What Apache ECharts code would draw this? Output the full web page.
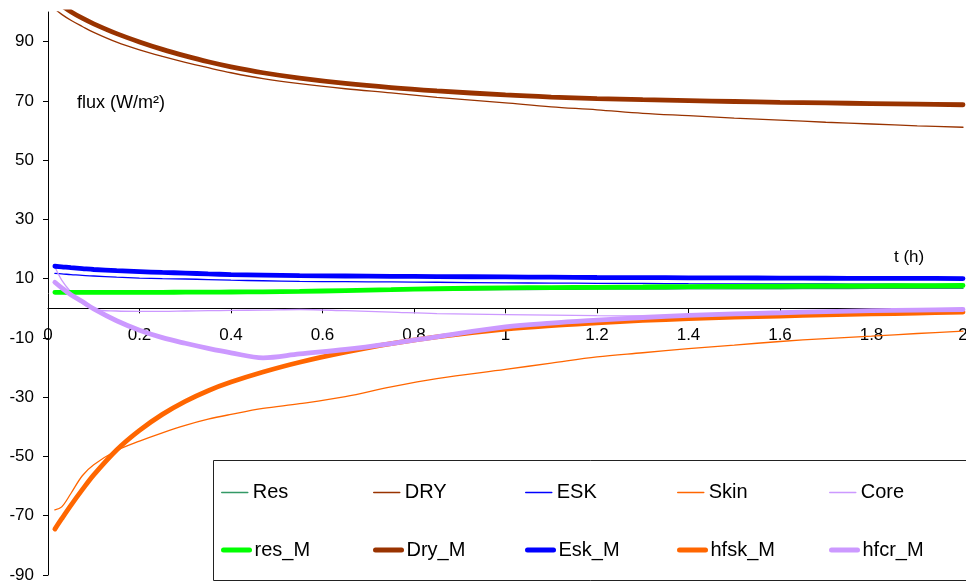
<!DOCTYPE html>
<html>
<head>
<meta charset="utf-8">
<script src="https://cdn.jsdelivr.net/npm/echarts@6/dist/echarts.min.js"></script>
<style>
html,body{margin:0;padding:0;background:#fff;}
#c{width:966px;height:582px;}
</style>
</head>
<body>
<div id="c"></div>
<script>
const times = [0.015,0.03,0.05,0.075,0.1,0.15,0.2,0.25,0.3,0.35,0.4,0.47,0.55,0.65,0.75,0.85,1.0,1.1,1.2,1.3,1.4,1.5,1.6,1.7,1.8,1.9,2.0];

const resThin  = [5.3,5.3,5.3,5.3,5.3,5.3,5.3,5.35,5.35,5.4,5.4,5.5,5.6,5.8,6.0,6.1,6.3,6.4,6.45,6.5,6.55,6.6,6.6,6.65,6.7,6.7,6.7];
const dryThin  = [101.0,99.2,97.2,95.1,93.1,89.8,87.2,85.0,83.0,81.2,79.5,77.5,75.8,74.1,72.7,71.2,69.3,68.0,67.0,65.8,65.0,64.2,63.5,62.8,62.2,61.6,61.1];
const eskThin  = [11.8,11.6,11.4,11.1,10.9,10.5,10.2,10.0,9.9,9.7,9.5,9.3,9.1,9.0,8.9,8.8,8.6,8.5,8.45,8.4,8.3,8.25,8.2,8.2,8.15,8.1,8.1];
const skinThin = [-68,-67,-62.5,-56.5,-52.8,-48,-44.8,-42.0,-39.5,-37.4,-35.8,-33.8,-32.2,-29.8,-26.5,-23.7,-20.6,-18.5,-16.4,-15.0,-13.6,-12.4,-11.2,-10.2,-9.4,-8.5,-7.7];
const coreThin = [14.0,9.5,5.5,1.6,-0.4,-0.9,-1.0,-1.0,-0.9,-0.8,-0.7,-0.6,-0.4,-0.8,-1.3,-1.8,-2.1,-2.3,-2.5,-2.6,-2.3,-2.0,-1.7,-1.4,-1.1,-0.8,-0.5];
const resM     = [5.4,5.4,5.4,5.4,5.4,5.4,5.4,5.4,5.45,5.45,5.5,5.55,5.7,6.0,6.3,6.6,6.9,7.0,7.1,7.2,7.35,7.4,7.5,7.55,7.6,7.65,7.7];
const dryM     = [104.0,102.2,100.1,97.9,96.0,92.7,89.9,87.4,85.2,83.2,81.5,79.5,77.7,75.9,74.5,73.4,72.0,71.3,70.8,70.4,70.1,69.8,69.5,69.3,69.1,68.9,68.7];
const eskM     = [14.2,14.0,13.7,13.4,13.1,12.7,12.4,12.1,11.9,11.6,11.4,11.2,11.0,10.9,10.8,10.7,10.6,10.5,10.4,10.35,10.3,10.25,10.2,10.15,10.1,10.1,10.05];
const hfskM    = [-74.5,-71.0,-66.5,-61.2,-56.2,-47.8,-41.2,-35.8,-31.4,-27.8,-24.9,-21.5,-18.2,-14.8,-11.9,-9.6,-7.0,-5.8,-4.9,-4.1,-3.5,-3.0,-2.6,-2.2,-1.9,-1.6,-1.3];
const hfcrM    = [8.8,6.9,4.6,2.3,-0.2,-4.2,-7.4,-9.9,-11.8,-13.5,-15.0,-16.7,-15.4,-13.9,-11.9,-9.6,-6.3,-5.0,-4.0,-3.1,-2.4,-1.9,-1.5,-1.1,-0.8,-0.6,-0.4];

const seriesNames = ['Res','DRY','ESK','Skin','Core','res_M','Dry_M','Esk_M','hfsk_M','hfcr_M'];
const seriesValues = [resThin,dryThin,eskThin,skinThin,coreThin,resM,dryM,eskM,hfskM,hfcrM];
const seriesColors = ['#339966','#993300','#0000FF','#FF6600','#CC99FF','#00FF00','#993300','#0000FF','#FF6600','#CC99FF'];
const seriesThick = [false,false,false,false,false,true,true,true,true,true];

const yTickValues = [-90,-70,-50,-30,-10,10,30,50,70,90];

const FONT = '"Liberation Sans", Arial, sans-serif';

const Y_MIN = -90, Y_MAX = 100, GRID_TOP = 12, GRID_BOTTOM = 7, H = 582;
const plotH = H - GRID_TOP - GRID_BOTTOM;
const zeroOffset = -(plotH * (0 - Y_MIN) / (Y_MAX - Y_MIN));

const series = seriesNames.map((name, i) => ({
  name: name,
  type: 'line',
  data: times.map((t, j) => [t, seriesValues[i][j]]),
  symbol: 'none',
  smooth: 0.35,
  lineStyle: { color: seriesColors[i], width: seriesThick[i] ? 4.8 : 1.3, cap: 'round' },
  itemStyle: { color: seriesColors[i] },
  z: 2
}));

const legends = seriesNames.map((n, i) => ({
  data: [{ name: n, lineStyle: { width: seriesThick[i] ? 5 : 1.5 } }],
  left: 221 + (i % 5) * 152,
  top: 482.5 + Math.floor(i / 5) * 57.6,
  padding: 0,
  itemWidth: 26, itemHeight: 14,
  itemStyle: { opacity: 0 },
  textStyle: { color: '#000', fontSize: 20, fontFamily: FONT },
  selectedMode: false,
  z: 10
}));

const chart = echarts.init(document.getElementById('c'), null, { renderer: 'canvas' });
chart.setOption({
  animation: false,
  backgroundColor: '#fff',
  grid: { left: 48, right: 3, top: GRID_TOP, bottom: GRID_BOTTOM, containLabel: false, outerBoundsMode: 'none' },
  xAxis: {
    type: 'value',
    min: 0, max: 2, interval: 0.2,
    position: 'bottom',
    offset: zeroOffset,
    axisLine: { onZero: false, lineStyle: { color: '#000', width: 1 } },
    axisTick: { show: true, length: 5, lineStyle: { color: '#000' } },
    axisLabel: { color: '#000', fontSize: 17, fontFamily: FONT, margin: 18, showMaxLabel: true, showMinLabel: true, hideOverlap: false },
    splitLine: { show: false }
  },
  yAxis: {
    type: 'value',
    min: Y_MIN, max: Y_MAX,
    axisLine: { show: true, onZero: false, lineStyle: { color: '#000', width: 1 } },
    axisTick: { show: true, length: 5, customValues: yTickValues, lineStyle: { color: '#000' } },
    axisLabel: { color: '#000', fontSize: 17, fontFamily: FONT, margin: 14, customValues: yTickValues },
    splitLine: { show: false }
  },
  legend: legends,
  graphic: [
    { type: 'rect', z: 5, shape: { x: 213.5, y: 460.5, width: 800, height: 120 },
      style: { fill: '#fff', stroke: '#222', lineWidth: 1 } },
    { type: 'text', z: 6, left: 77, top: 94,
      style: { text: 'flux (W/m²)', fill: '#000', font: '18px ' + FONT } },
    { type: 'text', z: 6, left: 894, top: 249,
      style: { text: 't (h)', fill: '#000', font: '17px ' + FONT } }
  ],
  series: series
});
</script>
</body>
</html>
